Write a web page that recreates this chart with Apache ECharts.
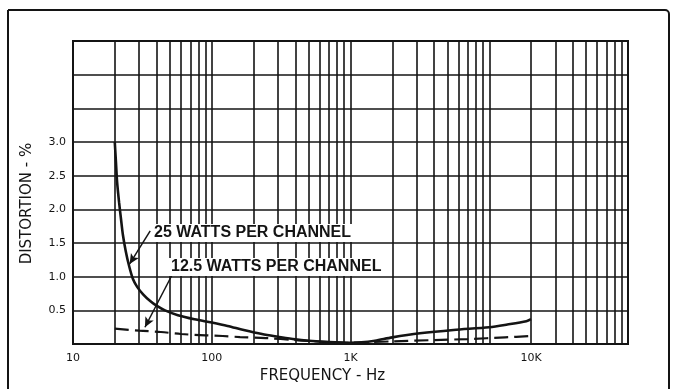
<!DOCTYPE html>
<html>
<head>
<meta charset="utf-8">
<script src="https://cdn.jsdelivr.net/npm/echarts@6/dist/echarts.min.js"></script>
<style>
html,body{margin:0;padding:0;background:#fff;}
#chart{width:673px;height:389px;}
</style>
</head>
<body>
<div id="chart"></div>
<script>
// ---- data ----
const freq25 = [20, 20.4, 20.8, 21.5, 22.2, 22.9, 24, 25.3, 27, 29, 32, 36, 40, 46, 57, 75, 100, 130, 170, 230, 300, 400, 500, 700, 1000, 1200, 1500, 2000, 3165, 5520, 10000, 13500, 18500, 20000];
const dist25 = [3.0, 2.7, 2.4, 2.1, 1.85, 1.62, 1.38, 1.17, 0.97, 0.85, 0.74, 0.64, 0.57, 0.5, 0.43, 0.37, 0.32, 0.27, 0.21, 0.15, 0.11, 0.07, 0.05, 0.03, 0.02, 0.025, 0.05, 0.1, 0.16, 0.21, 0.25, 0.29, 0.34, 0.37];
const freq125 = [20, 30, 43, 60, 90, 120, 160, 245, 400, 700, 1000, 1400, 2000, 4000, 7000, 13000, 20000];
const dist125 = [0.23, 0.2, 0.18, 0.15, 0.13, 0.12, 0.105, 0.09, 0.06, 0.03, 0.02, 0.03, 0.04, 0.06, 0.075, 0.1, 0.12];

const xTickValues = [10, 100, 1000, 20000];
const xTickLabels = ['10', '100', '1K', '10K'];
const yTickValues = [0.5, 1.0, 1.5, 2.0, 2.5, 3.0];
const yTickLabels = ['0.5', '1.0', '1.5', '2.0', '2.5', '3.0'];
const xGridValues = [20,30,40,50,60,70,80,90,100,200,300,400,500,600,700,800,900,1000,
  2000,3000,4000,5000,6000,7000,8000,9000,10000,20000,30000,40000,50000,60000,70000,80000,90000];

const label25 = '25 WATTS PER CHANNEL';
const label125 = '12.5 WATTS PER CHANNEL';
const arrow25 = [[36, 1.68], [25.6, 1.19]];
const arrow125 = [[54, 1.1], [33, 0.25]];

const INK = '#141414';
const chart = echarts.init(document.getElementById('chart'));
const pairs = (xs, ys) => xs.map((x, i) => [x, ys[i]]);

chart.setOption({
  animation: false,
  backgroundColor: '#fff',
  grid: { left: 73, right: 45, top: 41, bottom: 41, show: true, borderColor: INK, borderWidth: 2, backgroundColor: 'transparent' },
  xAxis: {
    type: 'log', logBase: 10, min: 10, max: 100000,
    axisLine: { show: true, lineStyle: { color: INK, width: 2 } },
    axisTick: { show: false },
    splitLine: { show: false },
    axisLabel: {
      customValues: xTickValues,
      margin: 9,
      color: INK, fontFamily: 'DejaVu Sans', fontSize: 11,
      formatter: function (v) {
        for (let i = 0; i < xTickValues.length; i++) {
          if (Math.abs(v - xTickValues[i]) / xTickValues[i] < 1e-6) return xTickLabels[i];
        }
        return '';
      }
    },
    name: 'FREQUENCY - Hz', nameLocation: 'middle', nameGap: 24,
    nameTextStyle: { color: INK, fontFamily: 'DejaVu Sans', fontSize: 15, padding: [0, 56, 0, 0] }
  },
  yAxis: {
    type: 'value', min: 0, max: 4.5, interval: 0.5,
    axisLine: { show: false },
    axisTick: { show: false },
    splitLine: { show: true, lineStyle: { color: INK, width: 1.6 } },
    axisLabel: {
      margin: 7, color: INK, fontFamily: 'DejaVu Sans', fontSize: 11,
      formatter: function (v) {
        for (let i = 0; i < yTickValues.length; i++) {
          if (Math.abs(v - yTickValues[i]) < 1e-6) return yTickLabels[i];
        }
        return '';
      }
    },
    name: 'DISTORTION - %', nameLocation: 'middle', nameRotate: 90, nameGap: 38,
    nameTextStyle: { color: INK, fontFamily: 'DejaVu Sans', fontSize: 15, padding: [0, 22, 0, 0] }
  },
  graphic: [
    { type: 'rect', silent: true, shape: { x: 8, y: 10, width: 661, height: 420, r: [0, 4, 0, 0] },
      style: { fill: 'none', stroke: INK, lineWidth: 2 }, z: 100 },
    { type: 'text', left: 152, top: 224, silent: true,
      style: { text: label25, fill: INK, font: 'bold 16px "Liberation Sans"', backgroundColor: '#fff', padding: [1, 2, 1, 2] }, z: 100 },
    { type: 'text', left: 169, top: 258, silent: true,
      style: { text: label125, fill: INK, font: 'bold 16px "Liberation Sans"', backgroundColor: '#fff', padding: [1, 2, 1, 2] }, z: 100 }
  ],
  series: [
    {
      type: 'line', data: [], silent: true, z: 1,
      markLine: {
        silent: true, symbol: 'none', animation: false,
        label: { show: false },
        lineStyle: { type: 'solid', color: INK, width: 1.6 },
        data: xGridValues.map(v => ({ xAxis: v }))
      }
    },
    {
      name: label25, type: 'line', data: pairs(freq25, dist25),
      smooth: 0.3, showSymbol: false, z: 5,
      lineStyle: { color: INK, width: 2.6 },
      markLine: {
        silent: true, symbol: ['none', 'arrow'], symbolSize: [7, 10], animation: false,
        label: { show: false },
        lineStyle: { type: 'solid', color: INK, width: 1.5 },
        data: [
          [{ coord: arrow25[0] }, { coord: arrow25[1] }],
          [{ coord: arrow125[0] }, { coord: arrow125[1] }]
        ]
      }
    },
    {
      name: label125, type: 'line', data: pairs(freq125, dist125),
      smooth: 0.3, showSymbol: false, z: 5,
      lineStyle: { color: INK, width: 2.2, type: [14, 6] }
    }
  ]
});
</script>
</body>
</html>
